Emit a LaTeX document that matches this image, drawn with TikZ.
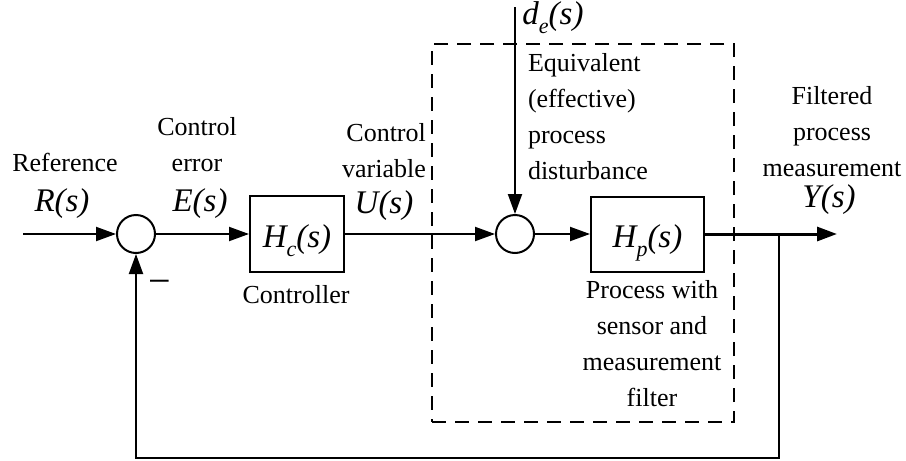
\documentclass[tikz,border=0pt]{standalone}
\usepackage{fontspec}
\setmainfont{Liberation Serif}
\usetikzlibrary{arrows.meta}
\newcommand\mysub[1]{\raisebox{-0.28em}{\fontsize{22}{22}\selectfont #1}}
\begin{document}
\begin{tikzpicture}[x=1pt,y=-1pt, line width=2pt,
  lbl/.style={font=\fontsize{26}{36}\selectfont, align=center, inner sep=0pt},
  sig/.style={font=\fontsize{33}{33}\selectfont\itshape, inner sep=0pt},
  blk/.style={draw, inner sep=0pt, text height=27pt, text depth=0pt, font=\fontsize{33}{33}\selectfont\itshape},
  sum/.style={draw, circle, minimum size=38pt, inner sep=0pt},
  arr/.style={-{Triangle[length=20pt,width=14pt]}},
  envbox/.style={draw, dash pattern=on 14pt off 9pt, inner sep=0pt}]
\useasboundingbox (0,0) rectangle (906,461);
% environment box
\node[envbox, minimum width=302pt, minimum height=378pt] (env) at (583,233) {};
% blocks
\coordinate (in) at (23,234);
\node[sum] (s1) at (136,234) {};
\node[blk, minimum width=94pt, minimum height=76pt] (hc) at (297,234) {H\mysub{c}(s)};
\node[sum] (s2) at (515,234) {};
\node[blk, minimum width=113pt, minimum height=75pt] (hp) at (647.5,234) {H\mysub{p}(s)};
\coordinate (out) at (837,234);
\coordinate (br) at (779,234);
\coordinate (c1) at (779,458);
\coordinate (c2) at (136,458);
\coordinate (dtop) at (515,7);
% connectors
\draw[arr] (in) -- (s1);
\draw[arr] (s1) -- (hc);
\draw[arr] (hc) -- (s2);
\draw[arr] (s2) -- (hp);
\draw[arr, line width=3pt] (hp) -- (out);
\draw[arr] (br) -- (c1) -- (c2) -- (s1);
\draw[arr] (dtop) -- (s2);
% labels
\node[lbl] (ref) at (65,162) {Reference};
\node[sig] (rs) at (62,204) {R(s)};
\node[lbl] (cerr) at (197,145) {Control\\error};
\node[sig] (es) at (200,204) {E(s)};
\node[lbl, align=right] (cvar) at (384,151) {Control\\variable};
\node[sig] (us) at (384,206) {U(s)};
\node[lbl] (ctrl) at (296,295) {Controller};
\node[lbl, font=\fontsize{40}{40}\selectfont] (minus) at (160,287) {−};
\node[sig] (ds) at (553,18) {d\mysub{e}(s)};
\node[lbl, align=left, anchor=west] (eq) at (527,117) {Equivalent\\(effective)\\process\\disturbance};
\node[lbl] (proc) at (652,344) {Process with\\sensor and\\measurement\\filter};
\node[lbl] (filt) at (832,132) {Filtered\\process\\measurement};
\node[sig] (ys) at (829,200) {Y(s)};
\end{tikzpicture}
\end{document}
